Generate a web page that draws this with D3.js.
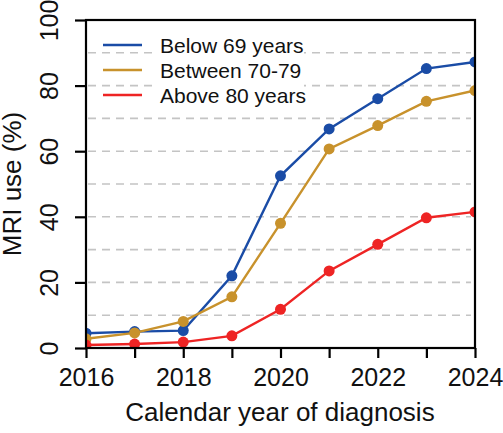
<!DOCTYPE html>
<html>
<head>
<meta charset="utf-8">
<script src="https://cdn.jsdelivr.net/npm/d3@7"></script>
<style>
  body { margin: 0; background: #fff; }
  text { font-family: "Liberation Sans", Arial, sans-serif; fill: #111; }
</style>
</head>
<body>
<svg id="chart" width="503" height="433"></svg>
<script>
var years = [2016, 2017, 2018, 2019, 2020, 2021, 2022, 2023, 2024];
var below69 = [4.5, 5.0, 5.3, 22.0, 52.5, 66.8, 76.0, 85.2, 87.2];
var between7079 = [2.8, 4.6, 8.1, 15.6, 38.0, 60.7, 67.8, 75.2, 78.5];
var above80 = [0.9, 1.2, 1.8, 3.7, 11.8, 23.5, 31.6, 39.7, 41.5];
var seriesNames = ["Below 69 years", "Between 70-79", "Above 80 years"];
var seriesColors = ["#1a4ca6", "#c8922c", "#ee2424"];
var yTicks = [0, 20, 40, 60, 80, 100];
var gridValues = [10, 20, 30, 40, 50, 60, 70, 80, 90];
var xTicks = [2016, 2017, 2018, 2019, 2020, 2021, 2022, 2023, 2024];
var xLabels = [2016, 2018, 2020, 2022, 2024];

var svg = d3.select("#chart");
var pLeft = 86, pRight = 475, pTop = 20, pBottom = 348;

var x = d3.scaleLinear().domain([2016, 2024]).range([pLeft, pRight]);
var y = d3.scaleLinear().domain([0, 100]).range([pBottom, pTop]);

svg.append("defs").append("clipPath").attr("id", "plotclip")
  .append("rect")
  .attr("x", pLeft).attr("y", pTop)
  .attr("width", pRight - pLeft).attr("height", pBottom - pTop);

// dashed grid
svg.append("g").selectAll("line").data(gridValues).enter().append("line")
  .attr("x1", pLeft + 2).attr("x2", pRight - 4)
  .attr("y1", function(d){ return y(d); })
  .attr("y2", function(d){ return y(d); })
  .attr("stroke", "#c4c4c4")
  .attr("stroke-width", 1.6)
  .attr("stroke-dasharray", "8,6");

// legend background covering grid behind text
svg.append("rect")
  .attr("x", 154).attr("y", 30).attr("width", 150).attr("height", 76)
  .attr("fill", "#fff");

var allSeries = [below69, between7079, above80];
var line = d3.line()
  .x(function(d, i){ return x(years[i]); })
  .y(function(d){ return y(d); });

var plot = svg.append("g").attr("clip-path", "url(#plotclip)");

allSeries.forEach(function(vals, k){
  plot.append("path")
    .datum(vals)
    .attr("d", line)
    .attr("fill", "none")
    .attr("stroke", seriesColors[k])
    .attr("stroke-width", 2.4);
  plot.selectAll(".pt" + k).data(vals).enter().append("circle")
    .attr("class", "pt" + k)
    .attr("cx", function(d, i){ return x(years[i]); })
    .attr("cy", function(d){ return y(d); })
    .attr("r", 5.5)
    .attr("fill", seriesColors[k]);
});

// box
svg.append("rect")
  .attr("x", pLeft).attr("y", pTop)
  .attr("width", pRight - pLeft).attr("height", pBottom - pTop)
  .attr("fill", "none").attr("stroke", "#000").attr("stroke-width", 2.2);

// x axis
var xAxis = d3.axisBottom(x)
  .tickValues(xTicks)
  .tickSize(10)
  .tickFormat(function(d){ return xLabels.indexOf(d) >= 0 ? d : ""; });
var gx = svg.append("g").attr("transform", "translate(0," + pBottom + ")").call(xAxis);
gx.select(".domain").remove();
gx.selectAll(".tick line").attr("stroke", "#000").attr("stroke-width", 2.2);
gx.selectAll(".tick text")
  .attr("y", 20).attr("dy", "0.71em")
  .style("font-size", "25px")
  .style("font-family", "Liberation Sans, Arial, sans-serif")
  .attr("fill", "#111");

// y axis
var yAxis = d3.axisLeft(y).tickValues(yTicks).tickSize(11).tickFormat(d3.format("d"));
var gy = svg.append("g").attr("transform", "translate(" + pLeft + ",0)").call(yAxis);
gy.select(".domain").remove();
gy.selectAll(".tick line").attr("stroke", "#000").attr("stroke-width", 2.2);
gy.selectAll(".tick text")
  .attr("x", 0).attr("dy", 0)
  .attr("transform", "translate(-28,0) rotate(-90)")
  .attr("text-anchor", "middle")
  .style("font-size", "25px")
  .style("font-family", "Liberation Sans, Arial, sans-serif")
  .attr("fill", "#111");

// axis titles
svg.append("text")
  .attr("x", 280).attr("y", 421)
  .attr("text-anchor", "middle")
  .style("font-size", "26px")
  .text("Calendar year of diagnosis");

svg.append("text")
  .attr("transform", "translate(21," + ((pTop + pBottom) / 2) + ") rotate(-90)")
  .attr("text-anchor", "middle")
  .style("font-size", "26px")
  .text("MRI use (%)");

// legend
var legend = svg.append("g");
seriesNames.forEach(function(name, k){
  var ly = 45 + k * 25;
  legend.append("line")
    .attr("x1", 103).attr("x2", 142)
    .attr("y1", ly).attr("y2", ly)
    .attr("stroke", seriesColors[k]).attr("stroke-width", 2.4);
  legend.append("text")
    .attr("x", 160).attr("y", ly + 7.5)
    .style("font-size", "21px")
    .text(name);
});
</script>
</body>
</html>
